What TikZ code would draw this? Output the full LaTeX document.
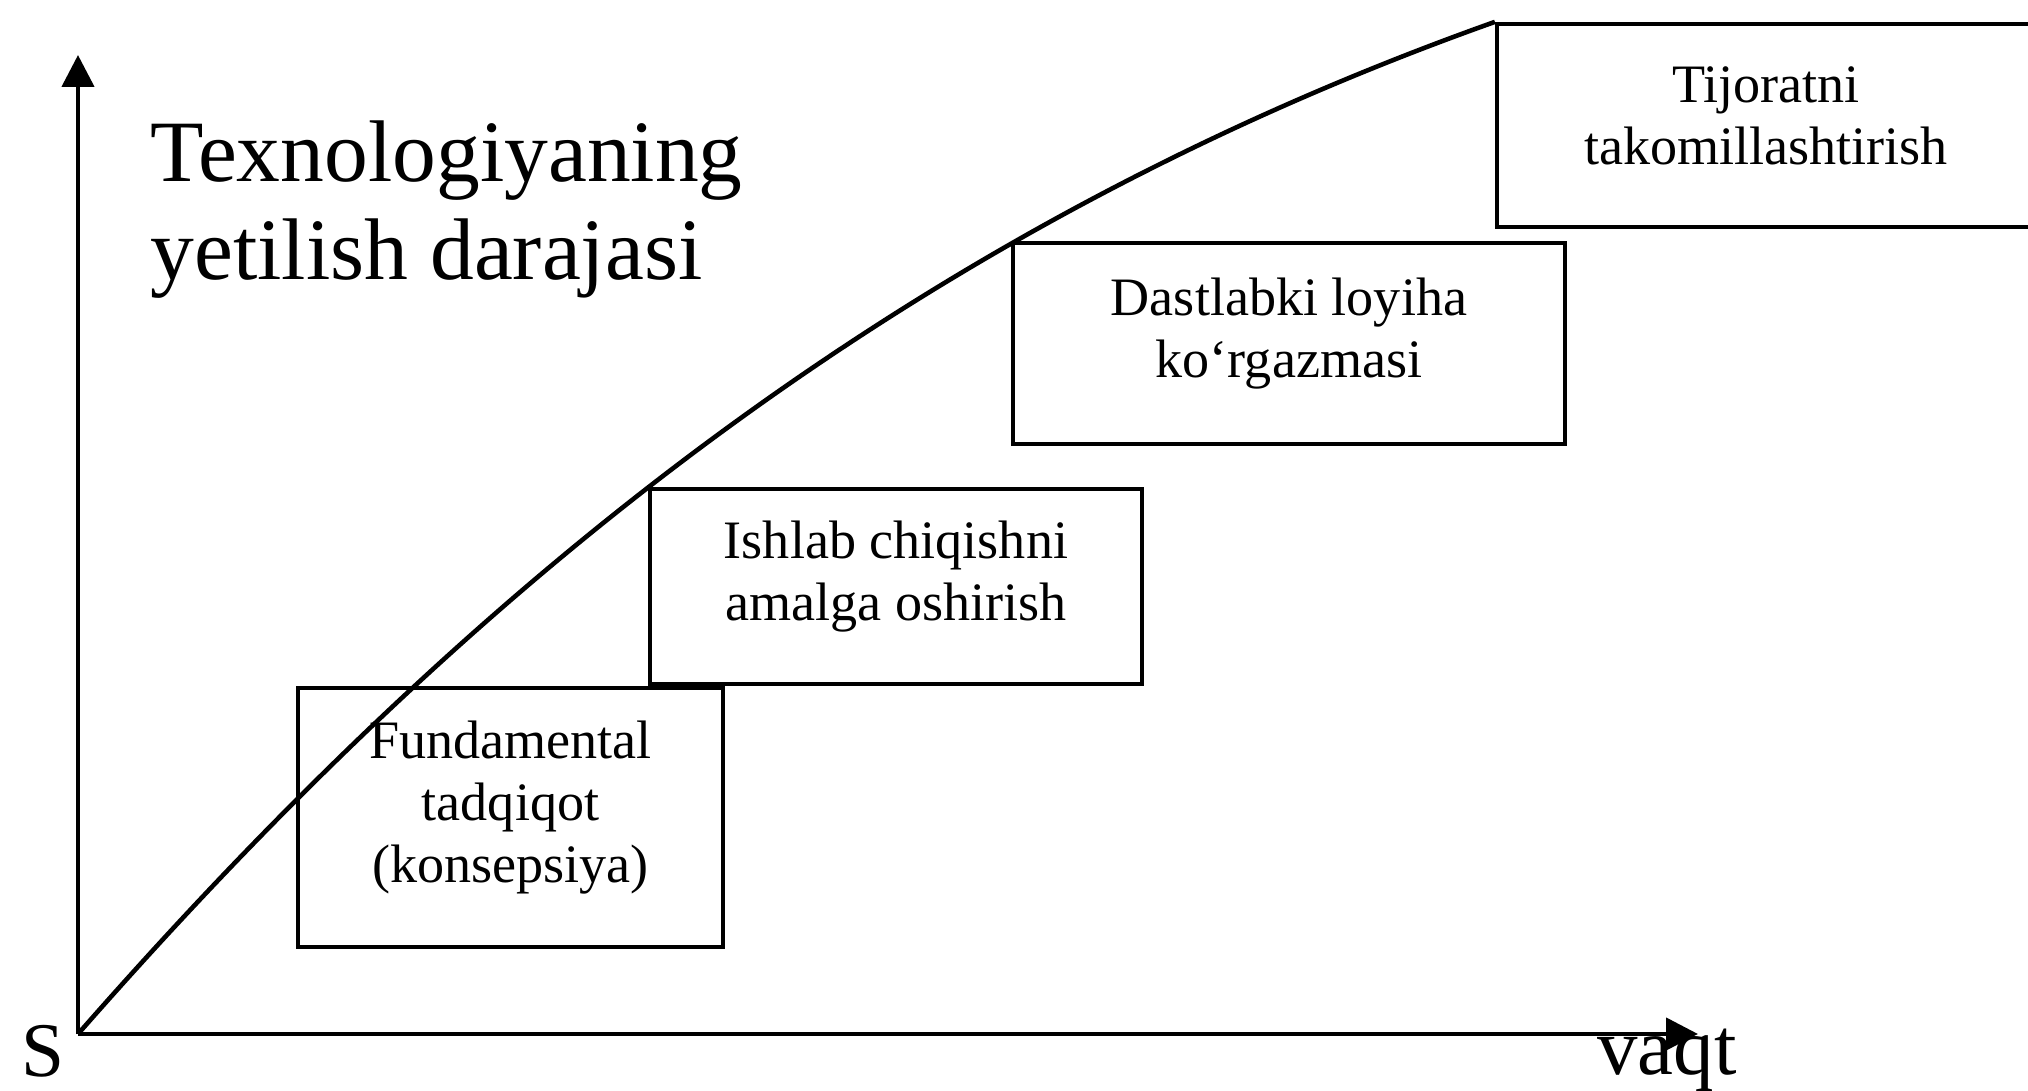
\documentclass[tikz,border=0pt]{standalone}
\usepackage{fontspec}
\setmainfont{Liberation Serif}
\usetikzlibrary{arrows.meta}

\begin{document}
\begin{tikzpicture}[
    axis/.style={line width=1.3pt, -{Triangle[length=3.2mm,width=3.2mm]}},
    stagebox/.style={draw, line width=1.2pt, inner sep=0pt},
    stagetext/.style={align=center, inner sep=0pt, font=\fontsize{15.4}{17.6}\selectfont}
]
\useasboundingbox (0,0) rectangle (20.28,10.90);
% axes
\coordinate (O) at (0.78,0.56);
\coordinate (ytip) at (0.78,10.35);
\coordinate (xtip) at (16.98,0.56);
\draw[axis] (O) -- (ytip);
\draw[axis] (O) -- (xtip);
\node[anchor=base, inner sep=0pt, font=\fontsize{22}{26}\selectfont] (S) at (0.43,0.14) {S};
\node[anchor=base, inner sep=0pt, font=\fontsize{23}{27}\selectfont] (vaqt) at (16.67,0.16) {vaqt};
\node[anchor=north west, align=left, inner sep=0pt, font=\fontsize{24.9}{28}\selectfont] (title)
    at (1.50,9.70) {Texnologiyaning\\yetilish darajasi};
% stages
\node[stagebox, minimum width=4.25cm, minimum height=2.59cm] (fund) at (5.105,2.725) {};
\node[stagebox, minimum width=4.92cm, minimum height=1.95cm] (ishlab) at (8.96,5.035) {};
\node[stagebox, minimum width=5.52cm, minimum height=2.01cm] (loyiha) at (12.89,7.465) {};
\node[stagebox, minimum width=5.38cm, minimum height=2.03cm] (tijorat) at (17.66,9.645) {};
\node[stagetext] (fundtxt) at ([yshift=1mm]fund.center) {Fundamental\\tadqiqot\\(konsepsiya)};
\node[stagetext] (ishlabtxt) at ([yshift=1mm]ishlab.center) {Ishlab chiqishni\\amalga oshirish};
\node[stagetext] (loyihatxt) at ([yshift=1mm]loyiha.center) {Dastlabki loyiha\\ko‘rgazmasi};
\node[stagetext] (tijorattxt) at ([yshift=1mm]tijorat.center) {Tijoratni\\takomillashtirish};
% maturity curve
\draw[line width=1.3pt] (O) .. controls (4.64,4.96) and (8.98,8.56) .. (tijorat.north west);
\end{tikzpicture}
\end{document}
